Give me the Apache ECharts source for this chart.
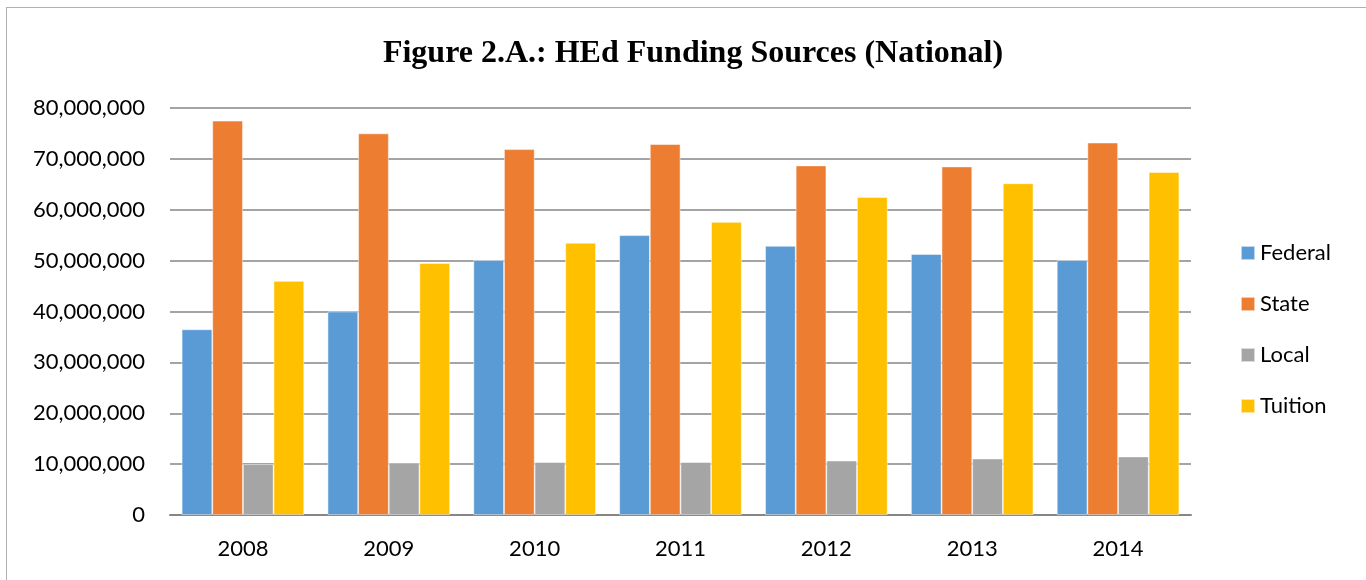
<!DOCTYPE html>
<html><head><meta charset="utf-8">
<script src="https://cdn.jsdelivr.net/npm/echarts@6/dist/echarts.min.js"></script>
<style>html,body{margin:0;padding:0;background:#fff;overflow:hidden}#c{width:1366px;height:580px}
#frame{position:absolute;left:6px;top:7px;width:1380px;height:600px;border:1px solid #b0b0b0;box-sizing:border-box;pointer-events:none}</style>
</head><body><div id="c"></div><div id="frame"></div>
<script>
const categories = ['2008','2009','2010','2011','2012','2013','2014'];
const federal = [36500000, 40000000, 50100000, 55000000, 52900000, 51300000, 50100000];
const state   = [77500000, 75000000, 71900000, 72900000, 68700000, 68500000, 73200000];
const local   = [10000000, 10300000, 10400000, 10400000, 10700000, 11100000, 11500000];
const tuition = [46000000, 49500000, 53500000, 57600000, 62500000, 65200000, 67400000];
const seriesNames = ['Federal','State','Local','Tuition'];
const colors = ['#5B9BD5','#ED7D31','#A5A5A5','#FFC000'];

const chart = echarts.init(document.getElementById('c'), null, {renderer:'canvas'});
const font = 'Lato, "Open Sans", sans-serif';
const data = [federal, state, local, tuition];
chart.setOption({
  animation:false,
  color: colors,
  title:{text:'Figure 2.A.: HEd Funding Sources (National)', left:688, textAlign:'center', top:33,
    textStyle:{fontFamily:'"Liberation Serif", "Times New Roman", serif', fontWeight:'bold', fontSize:32, color:'#000'}},
  legend:{orient:'vertical', left:1240, top:242, padding:0, itemWidth:14, itemHeight:14, itemGap:29, icon:'rect',
    textStyle:{fontFamily:font, fontSize:22, color:'#000'}, data:seriesNames},
  grid:{left:170, right:175, top:108, bottom:65},
  xAxis:{type:'category', data:categories,
    axisLine:{lineStyle:{color:'#868686', width:2}}, axisTick:{show:false},
    axisLabel:{fontFamily:font, fontSize:22, color:'#000', margin:23}},
  yAxis:{type:'value', min:0, max:80000000, interval:10000000,
    axisLine:{show:false}, axisTick:{show:false},
    splitLine:{lineStyle:{color:'#868686', width:1.5}},
    axisLabel:{fontFamily:font, fontSize:22, color:'#000', margin:25,
      formatter:v=>v.toLocaleString('en-US')}},
  series: seriesNames.map((n,i)=>({name:n, type:'bar', data:data[i], barGap:'0%', barCategoryGap:'16%',
    itemStyle:{color:colors[i], borderColor:'rgba(255,255,255,0.6)', borderWidth:0.8}}))
});
</script></body></html>
